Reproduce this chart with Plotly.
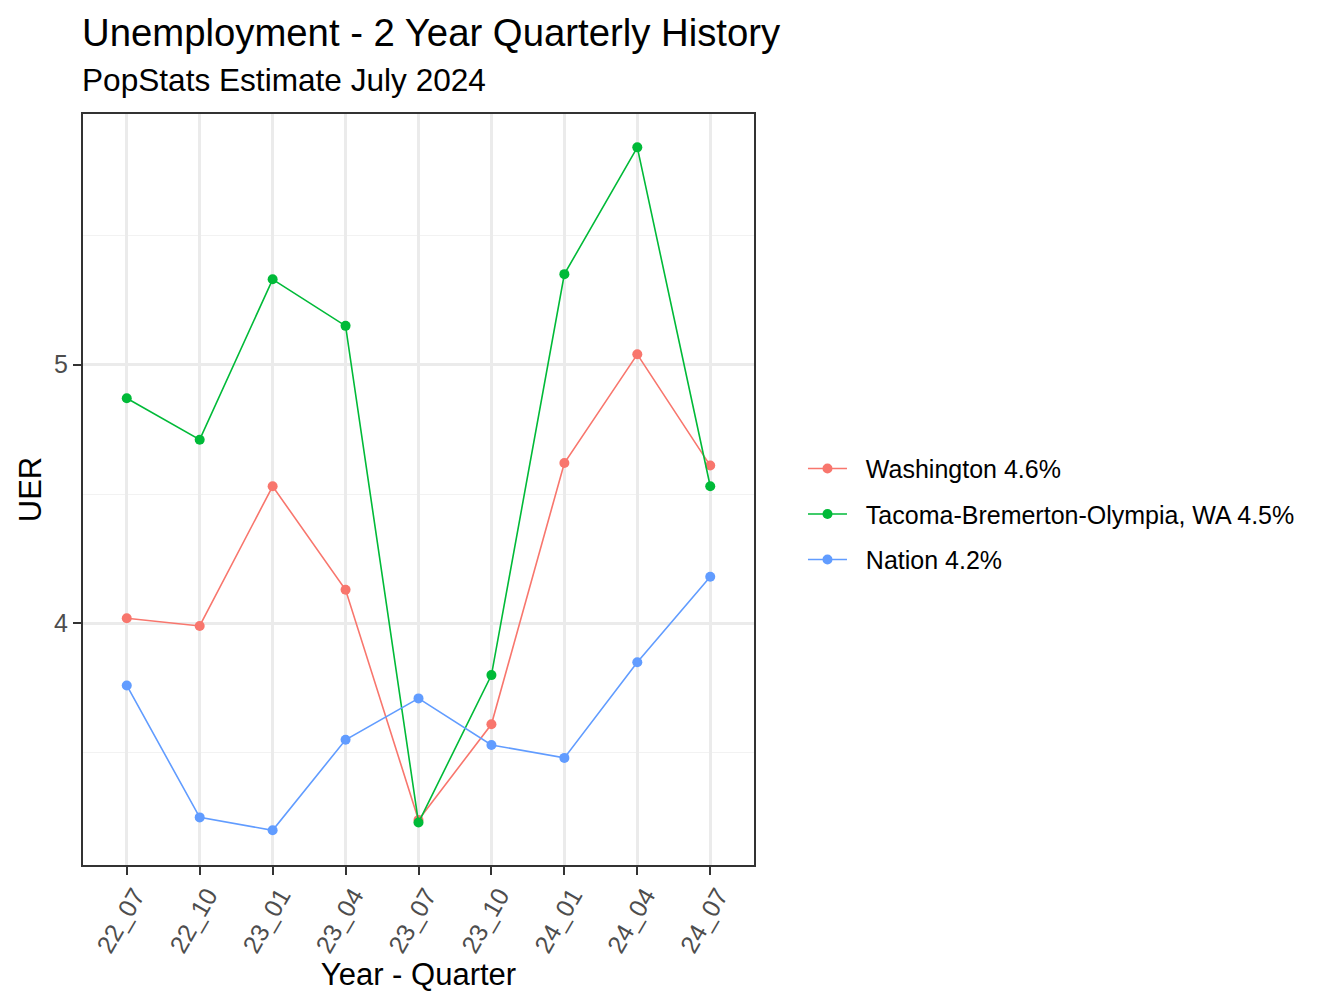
import plotly.graph_objects as go

# quarters (YY_MM) and unemployment rates
quarters = ["22_07", "22_10", "23_01", "23_04", "23_07", "23_10", "24_01", "24_04", "24_07"]
washington = [4.02, 3.99, 4.53, 4.13, 3.24, 3.61, 4.62, 5.04, 4.61]
tacoma = [4.87, 4.71, 5.33, 5.15, 3.23, 3.80, 5.35, 5.84, 4.53]
nation = [3.76, 3.25, 3.20, 3.55, 3.71, 3.53, 3.48, 3.85, 4.18]

series_names = ["Washington 4.6%", "Tacoma-Bremerton-Olympia, WA 4.5%", "Nation 4.2%"]
series_values = [washington, tacoma, nation]
series_colors = ["#F8766D", "#00BA38", "#619CFF"]

FONT = "Liberation Sans, Arial, sans-serif"
GAP = "\u00a0\u00a0"  # a little room between legend key and label, as in ggplot

fig = go.Figure()
for i, (name, vals, col) in enumerate(zip(series_names, series_values, series_colors)):
    fig.add_trace(go.Scatter(
        x=quarters,
        y=vals,
        name=GAP + name,
        mode="lines+markers",
        line=dict(color=col, width=1.6),
        marker=dict(color=col, size=10),
        legendgroup=str(i),
    ))

fig.update_layout(
    width=1344,
    height=1008,
    paper_bgcolor="white",
    plot_bgcolor="white",
    margin=dict(l=83, r=590, t=114, b=143, autoexpand=False),
    font=dict(family=FONT, color="black"),
    legend=dict(
        x=1.073, y=0.467, xanchor="left", yanchor="middle",
        font=dict(size=25, color="black"),
        tracegroupgap=10,
        itemwidth=39,
        bgcolor="rgba(0,0,0,0)",
    ),
    annotations=[
        dict(text="Unemployment - 2 Year Quarterly History", x=-0.005, y=1.109,
             xref="paper", yref="paper", xanchor="left", yanchor="middle",
             showarrow=False, font=dict(size=38.3, color="black")),
        dict(text="PopStats Estimate July 2024", x=-0.005, y=1.045,
             xref="paper", yref="paper", xanchor="left", yanchor="middle",
             showarrow=False, font=dict(size=31.6, color="black")),
    ],
)

fig.update_xaxes(
    type="category",
    range=[-0.6, 8.6],
    automargin=False,
    showgrid=True, gridcolor="#EBEBEB", gridwidth=3,
    showline=True, linecolor="#333333", linewidth=2, mirror=True,
    ticks="outside", ticklen=8, tickwidth=2, tickcolor="#333333",
    tickangle=-60,
    ticklabelstandoff=-4,
    ticklabelshift=8,
    tickfont=dict(size=25, color="#4D4D4D"),
    title=dict(text="Year - Quarter", font=dict(size=31, color="black"), standoff=0),
    zeroline=False,
)

fig.update_yaxes(
    range=[3.066, 5.969],
    tickvals=[4, 5],
    automargin=False,
    showgrid=True, gridcolor="#EBEBEB", gridwidth=3,
    minor=dict(tickvals=[3.5, 4.5, 5.5], showgrid=True, gridcolor="#F2F2F2", gridwidth=1.4),
    showline=True, linecolor="#333333", linewidth=2, mirror=True,
    ticks="outside", ticklen=8, tickwidth=2, tickcolor="#333333",
    tickfont=dict(size=25, color="#4D4D4D"),
    title=dict(text="UER", font=dict(size=31, color="black"), standoff=3),
    zeroline=False,
)

# drop the browser's default page margin so the figure sits at (0, 0)
fig.write_html("out.html", config={"displayModeBar": False},
               post_script="document.body.style.margin='0';")
